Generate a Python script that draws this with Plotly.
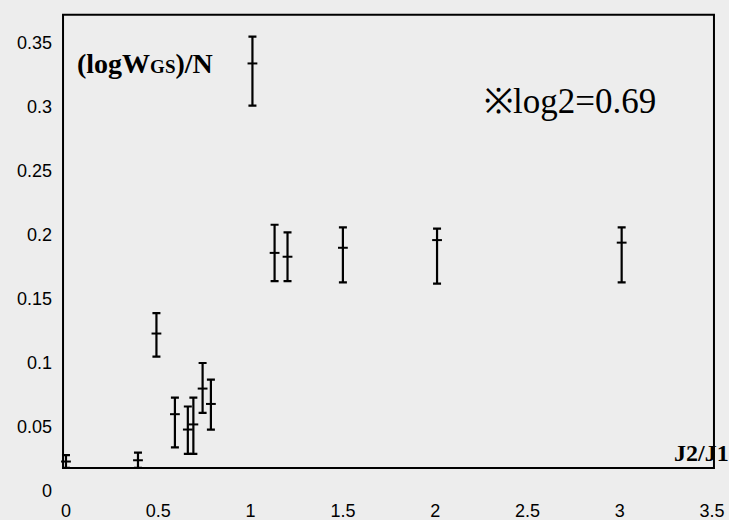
import plotly.graph_objects as go

# J2/J1 positions of each error bar
x_vals = [0.0, 0.39, 0.49, 0.59, 0.66, 0.69, 0.74, 0.785, 1.01, 1.13, 1.20, 1.50, 2.01, 3.01]
# central values, upper and lower ends of each bar
center = [0.023, 0.024, 0.123, 0.060, 0.048, 0.052, 0.080, 0.068, 0.334, 0.186, 0.183, 0.190, 0.196, 0.194]
upper = [0.028, 0.030, 0.139, 0.073, 0.066, 0.073, 0.100, 0.087, 0.355, 0.208, 0.202, 0.206, 0.205, 0.206]
lower = [0.018, 0.018, 0.105, 0.034, 0.029, 0.029, 0.061, 0.048, 0.301, 0.164, 0.164, 0.163, 0.162, 0.163]

y_ticks = [0, 0.05, 0.1, 0.15, 0.2, 0.25, 0.3, 0.35]
y_labels = ["0", "0.05", "0.1", "0.15", "0.2", "0.25", "0.3", "0.35"]
x_ticks = [0, 0.5, 1, 1.5, 2, 2.5, 3, 3.5]
x_labels = ["0", "0.5", "1", "1.5", "2", "2.5", "3", "3.5"]

err_plus = [u - c for u, c in zip(upper, center)]
err_minus = [c - l for c, l in zip(center, lower)]

fig = go.Figure()
fig.add_trace(go.Scatter(
    x=x_vals, y=center, mode="markers",
    marker=dict(symbol="line-ew", size=7, line=dict(width=2, color="black"), color="black"),
    error_y=dict(type="data", symmetric=False, array=err_plus, arrayminus=err_minus,
                 color="black", thickness=2.2, width=4),
    showlegend=False, cliponaxis=False, hoverinfo="skip",
))

fig.add_shape(type="rect", xref="x", yref="y", x0=-0.016, x1=3.51, y0=0.018, y1=0.372,
              line=dict(color="black", width=2), fillcolor="rgba(0,0,0,0)")

fig.add_annotation(x=0.049, y=0.3336, xref="x", yref="y", xanchor="left", yanchor="middle",
                   text="<b>(logW<span style='font-size:19px'>GS</span>)/N</b>", showarrow=False,
                   font=dict(family="Liberation Serif", size=28, color="black"))
fig.add_annotation(x=2.254, y=0.304, xref="x", yref="y", xanchor="left", yanchor="middle",
                   text="※log2=0.69", showarrow=False,
                   font=dict(family="Liberation Serif", size=35, color="black"))
fig.add_annotation(x=3.283, y=0.0297, xref="x", yref="y", xanchor="left", yanchor="middle",
                   text="<b>J2/J1</b>", showarrow=False,
                   font=dict(family="Liberation Serif", size=24, color="black"))

fig.update_layout(
    width=729, height=520,
    margin=dict(l=61, r=13, t=13, b=23, autoexpand=False),
    paper_bgcolor="#ededed", plot_bgcolor="#ededed",
    font=dict(family="Liberation Sans", size=18, color="black"),
    xaxis=dict(range=[-0.027, 3.521], tickvals=x_ticks, ticktext=x_labels, automargin=False,
               showgrid=False, zeroline=False, showline=False, ticks="", ticklabelstandoff=1),
    yaxis=dict(range=[-0.0047, 0.3734], tickvals=y_ticks, ticktext=y_labels, automargin=False,
               showgrid=False, zeroline=False, showline=False, ticks="", ticklabelstandoff=8),
)

fig.write_html(
    "out.html",
    config={"displayModeBar": False},
    post_script="document.body.style.margin='0';document.body.style.padding='0';"
                "document.body.style.overflow='hidden';document.body.style.background='#ededed';",
)
